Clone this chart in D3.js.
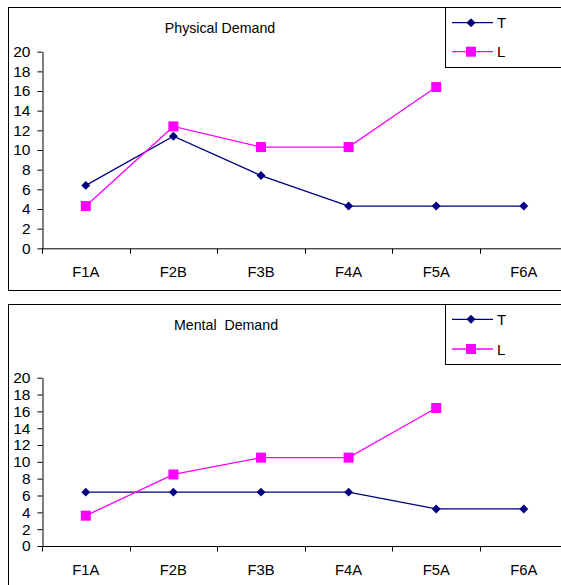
<!DOCTYPE html>
<html>
<head>
<meta charset="utf-8">
<script src="https://cdn.jsdelivr.net/npm/d3@7"></script>
<style>
  html, body { margin: 0; padding: 0; background: #fff; }
  svg { display: block; font-family: "Liberation Sans", Arial, sans-serif; }
</style>
</head>
<body>
<svg id="chart" width="561" height="585"></svg>
<script>
// Categories shared by both panels
const categories = ["F1A", "F2B", "F3B", "F4A", "F5A", "F6A"];
const yTicks = [0, 2, 4, 6, 8, 10, 12, 14, 16, 18, 20];
const seriesNames = ["T", "L"];

// Physical Demand scores
const physicalT = [6.4, 11.4, 7.4, 4.3, 4.3, 4.3];
const physicalL = [4.3, 12.4, 10.3, 10.3, 16.4, null];

// Mental Demand scores
const mentalT = [6.4, 6.4, 6.4, 6.4, 4.4, 4.4];
const mentalL = [3.6, 8.5, 10.5, 10.5, 16.4, null];

const colors = { T: "#000080", L: "#FF00FF" };

const svg = d3.select("#chart");

function drawPanel(cfg) {
  const g = svg.append("g");

  // outer frame (runs off the right edge)
  g.append("rect")
    .attr("x", cfg.frame.x + 0.5).attr("y", cfg.frame.y + 0.5)
    .attr("width", cfg.frame.w).attr("height", cfg.frame.h)
    .attr("fill", "#fff").attr("stroke", "#000").attr("stroke-width", 1);

  // title
  g.append("text")
    .attr("x", cfg.titleX).attr("y", cfg.titleY)
    .attr("text-anchor", "middle")
    .attr("font-size", 14.2).attr("fill", "#000")
    .style("white-space", "pre")
    .text(cfg.title);

  const x = d3.scaleBand().domain(categories).range([cfg.plot.left, cfg.plot.left + 6 * 87.6]);
  const y = d3.scaleLinear().domain([0, 20]).range([cfg.plot.bottom, cfg.plot.top]);

  // y axis
  const yAxis = g.append("g")
    .attr("transform", `translate(${cfg.plot.left + 0.5},0)`)
    .call(d3.axisLeft(y).tickValues(yTicks).tickSize(5).tickSizeOuter(0).tickPadding(7));
  yAxis.select(".domain").attr("stroke", "#000");
  yAxis.selectAll(".tick line").attr("stroke", "#000");
  yAxis.selectAll(".tick text").attr("font-size", 15.5).attr("fill", "#000")
    .attr("font-family", "'Liberation Sans', Arial, sans-serif");

  // x axis with ticks between categories
  const xAxis = g.append("g")
    .attr("transform", `translate(0,${cfg.plot.bottom + 0.5})`);
  xAxis.append("line")
    .attr("x1", cfg.plot.left).attr("x2", cfg.plot.left + 6 * 87.6)
    .attr("stroke", "#000");
  xAxis.selectAll("line.tk")
    .data(categories)
    .join("line")
    .attr("class", "tk")
    .attr("x1", d => Math.round(x(d)) + 0.5).attr("x2", d => Math.round(x(d)) + 0.5)
    .attr("y1", 0).attr("y2", 5)
    .attr("stroke", "#000");
  xAxis.selectAll("text")
    .data(categories)
    .join("text")
    .attr("x", d => x(d) + x.bandwidth() / 2)
    .attr("y", cfg.labelDy)
    .attr("text-anchor", "middle")
    .attr("font-size", 14.8).attr("fill", "#000")
    .text(d => d);

  const cx = d => x(d) + x.bandwidth() / 2;
  const line = d3.line()
    .defined(d => d.v != null)
    .x(d => cx(d.c)).y(d => y(d.v));

  const series = [
    { name: "T", values: cfg.T },
    { name: "L", values: cfg.L }
  ];

  series.forEach(s => {
    const pts = categories.map((c, i) => ({ c, v: s.values[i] }));
    g.append("path")
      .datum(pts)
      .attr("d", line)
      .attr("fill", "none")
      .attr("stroke", colors[s.name])
      .attr("stroke-width", 1.3);
    const valid = pts.filter(d => d.v != null);
    if (s.name === "T") {
      g.selectAll(null).data(valid).join("path")
        .attr("d", d3.symbol(d3.symbolSquare, 40)())
        .attr("transform", d => `translate(${cx(d.c)},${y(d.v)}) rotate(45)`)
        .attr("fill", colors.T);
    } else {
      g.selectAll(null).data(valid).join("rect")
        .attr("x", d => cx(d.c) - 5).attr("y", d => y(d.v) - 5)
        .attr("width", 10).attr("height", 10)
        .attr("fill", colors.L);
    }
  });

  // legend box
  const lg = g.append("g");
  lg.append("rect")
    .attr("x", 445.5).attr("y", cfg.frame.y + 0.5)
    .attr("width", 130).attr("height", cfg.legendH)
    .attr("fill", "#fff").attr("stroke", "#000");
  seriesNames.forEach((n, i) => {
    const ly = cfg.legendY[i];
    lg.append("line")
      .attr("x1", 452).attr("x2", 493).attr("y1", ly).attr("y2", ly)
      .attr("stroke", colors[n]).attr("stroke-width", 1.3);
    if (n === "T") {
      lg.append("path")
        .attr("d", d3.symbol(d3.symbolSquare, 40)())
        .attr("transform", `translate(471,${ly}) rotate(45)`)
        .attr("fill", colors.T);
    } else {
      lg.append("rect")
        .attr("x", 466).attr("y", ly - 5).attr("width", 10).attr("height", 10)
        .attr("fill", colors.L);
    }
    lg.append("text")
      .attr("x", 497).attr("y", ly + 5.5)
      .attr("font-size", 15).attr("fill", "#000")
      .text(n);
  });
}

drawPanel({
  frame: { x: 8, y: 7, w: 600, h: 283 },
  title: "Physical Demand",
  titleX: 220, titleY: 33,
  plot: { left: 42, top: 51.7, bottom: 248.3 },
  labelDy: 28.5,
  T: physicalT, L: physicalL,
  legendH: 60,
  legendY: [22.7, 51.7]
});

drawPanel({
  frame: { x: 8, y: 304, w: 600, h: 300 },
  title: "Mental  Demand",
  titleX: 226, titleY: 330,
  plot: { left: 42, top: 377.7, bottom: 546 },
  labelDy: 28.5,
  T: mentalT, L: mentalL,
  legendH: 60,
  legendY: [319.3, 349]
});
</script>
</body>
</html>
